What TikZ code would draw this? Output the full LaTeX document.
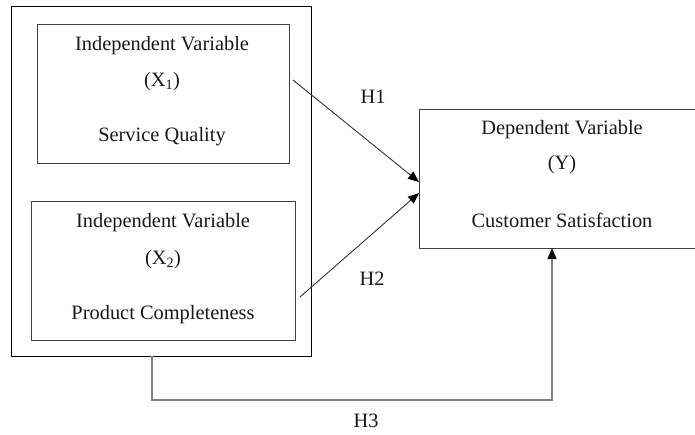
\documentclass[tikz,border=0pt]{standalone}
\usepackage{fontspec}
\setmainfont{Liberation Serif}
\usetikzlibrary{arrows.meta}
\begin{document}
\begin{tikzpicture}[x=1pt,y=-1pt,
  font=\fontsize{20.4}{24}\selectfont,
  varbox/.style={draw=black!75, line width=0.9pt, inner sep=0pt},
  outerbox/.style={draw=black, line width=0.9pt, inner sep=0pt},
  label/.style={anchor=base, inner sep=0pt, text=black!90},
  link/.style={draw=black!80, line width=0.9pt, -{Triangle[length=11pt,width=9pt,color=black]}},
  sidelink/.style={draw=black!50, line width=1.2pt, -{Triangle[length=11pt,width=9pt,color=black]}}]
\useasboundingbox (0,0) rectangle (695,434);

% grouping frame and the three variable boxes
\node[outerbox, minimum width=299.5pt, minimum height=350pt] (outer) at (161.25,181) {};
\node[varbox, minimum width=252pt, minimum height=139pt] (x1) at (163,93.5) {};
\node[varbox, minimum width=264pt, minimum height=139pt] (x2) at (163,270.5) {};
\node[varbox, minimum width=300pt, minimum height=139pt] (y) at (569,178.5) {};

% box texts
\node[label] (x1a) at (162,50) {Independent Variable};
\node[label] (x1b) at (162,86) {(X\textsubscript{1})};
\node[label] (x1c) at (162,141) {Service Quality};
\node[label] (x2a) at (163,227) {Independent Variable};
\node[label] (x2b) at (163,264) {(X\textsubscript{2})};
\node[label] (x2c) at (163,319) {Product Completeness};
\node[label] (ya) at (562,134) {Dependent Variable};
\node[label] (yb) at (562,169) {(Y)};
\node[label] (yc) at (562,227) {Customer Satisfaction};

% hypothesis paths
\coordinate (h1s) at (293,80);
\coordinate (h1e) at (419,182);
\coordinate (h2s) at (300,297);
\coordinate (h2e) at (419,193);
\coordinate (h3c) at (152,400);
\coordinate (h3t) at (552,248);
\draw[link] (h1s) -- (h1e);
\draw[link] (h2s) -- (h2e);
\draw[sidelink] (outer.south -| h3c) -- (h3c) -- (h3c -| h3t) -- (h3t);

\node[label] (h1) at (373,103) {H1};
\node[label] (h2) at (372,285) {H2};
\node[label] (h3) at (366,427) {H3};
\end{tikzpicture}
\end{document}
